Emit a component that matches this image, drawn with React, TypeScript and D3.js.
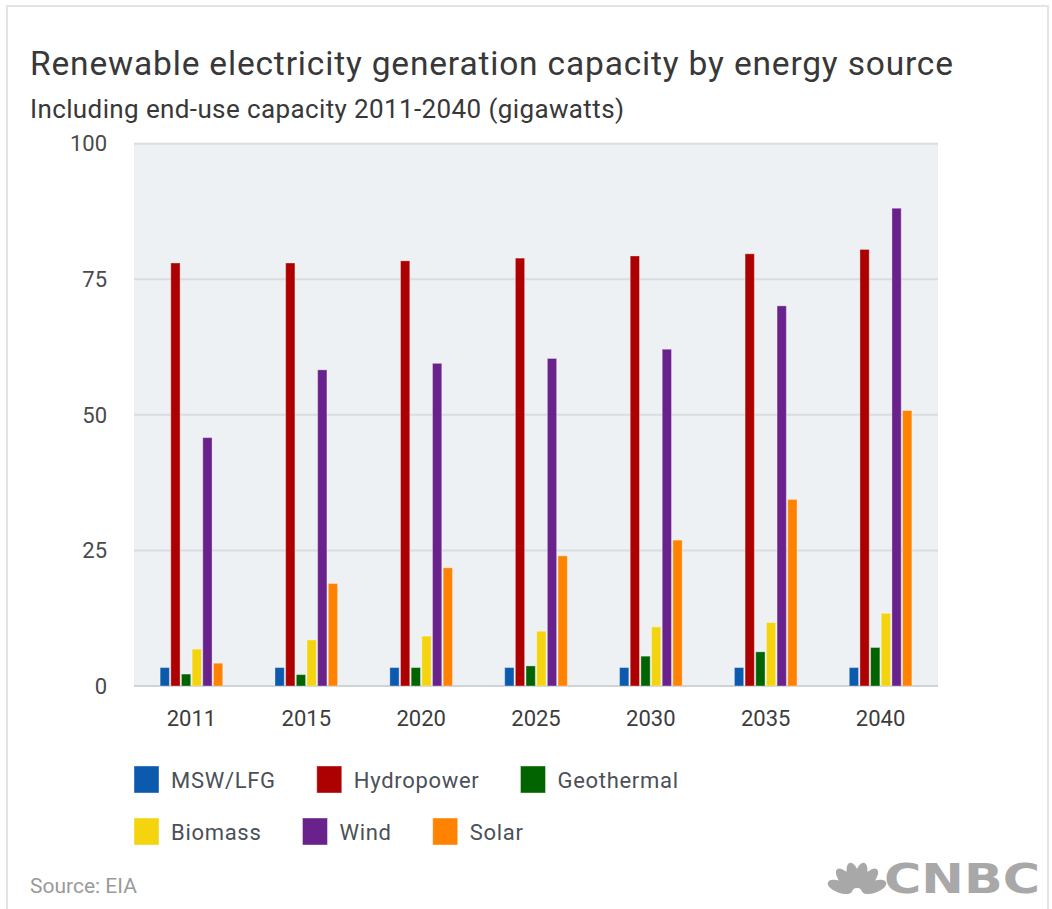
import React, { useEffect, useRef } from "react";
import * as d3 from "d3";

const years = ["2011", "2015", "2020", "2025", "2030", "2035", "2040"];
const sources = ["MSW/LFG", "Hydropower", "Geothermal", "Biomass", "Wind", "Solar"];
const sourceColors = ["#0b5aad", "#ad0000", "#016401", "#f3d40f", "#69218b", "#ff8200"];

const mswLfg = [3.4, 3.4, 3.4, 3.4, 3.4, 3.4, 3.4];
const hydropower = [78.0, 78.0, 78.4, 78.9, 79.3, 79.7, 80.5];
const geothermal = [2.2, 2.1, 3.4, 3.7, 5.5, 6.3, 7.1];
const biomass = [6.8, 8.5, 9.2, 10.1, 10.9, 11.7, 13.4];
const wind = [45.8, 58.3, 59.5, 60.4, 62.1, 70.1, 88.1];
const solar = [4.2, 18.9, 21.8, 24.0, 26.9, 34.4, 50.8];

const seriesValues = [mswLfg, hydropower, geothermal, biomass, wind, solar];
const yTicks = [0, 25, 50, 75, 100];
const legendRows = [
  [0, 1, 2],
  [3, 4, 5],
];

const W = 1052;
const H = 909;
const FONT = "Roboto, 'Open Sans', sans-serif";

export default function App() {
  const ref = useRef<SVGSVGElement | null>(null);

  useEffect(() => {
    const svg = d3.select(ref.current);
    svg.selectAll("*").remove();

    // outer frame
    svg
      .append("rect")
      .attr("x", 7)
      .attr("y", 6)
      .attr("width", 1041)
      .attr("height", 940)
      .attr("fill", "#fff")
      .attr("stroke", "#e4e4e4")
      .attr("stroke-width", 2);

    // headings
    svg
      .append("text")
      .attr("x", 30)
      .attr("y", 75)
      .attr("font-family", FONT)
      .attr("font-size", 33.5)
      .attr("fill", "#383838")
      .attr("textLength", 923)
      .attr("lengthAdjust", "spacing")
      .text("Renewable electricity generation capacity by energy source");
    svg
      .append("text")
      .attr("x", 30)
      .attr("y", 118)
      .attr("font-family", FONT)
      .attr("font-size", 26)
      .attr("fill", "#383838")
      .attr("textLength", 594)
      .attr("lengthAdjust", "spacing")
      .text("Including end-use capacity 2011-2040 (gigawatts)");

    const left = 134;
    const right = 938;
    const y = d3.scaleLinear().domain([0, 100]).range([686, 143.7]);
    const x0 = d3.scaleBand<string>().domain(years).range([left, right]).padding(0);
    const groupW = 62.6;
    const x1 = d3
      .scaleBand<number>()
      .domain(d3.range(sources.length))
      .range([0, groupW])
      .paddingInner(0.13);

    // plot background
    svg
      .append("rect")
      .attr("x", left)
      .attr("y", y(100))
      .attr("width", right - left)
      .attr("height", y(0) - y(100))
      .attr("fill", "#eef1f3");

    // gridlines
    svg
      .append("g")
      .selectAll("line")
      .data(yTicks)
      .join("line")
      .attr("x1", left)
      .attr("x2", right)
      .attr("y1", (d) => y(d))
      .attr("y2", (d) => y(d))
      .attr("stroke", (d) => (d === 0 ? "#cfd3d7" : "#d9dce0"))
      .attr("stroke-width", 2);

    // y tick labels
    svg
      .append("g")
      .selectAll("text")
      .data(yTicks)
      .join("text")
      .attr("x", 107)
      .attr("y", (d) => y(d))
      .attr("dy", "0.35em")
      .attr("text-anchor", "end")
      .attr("font-family", FONT)
      .attr("font-size", 22)
      .attr("fill", "#4a4a4a")
      .text((d) => String(d));

    // x labels
    svg
      .append("g")
      .selectAll("text")
      .data(years)
      .join("text")
      .attr("x", (d) => (x0(d) as number) + x0.bandwidth() / 2)
      .attr("y", 726)
      .attr("text-anchor", "middle")
      .attr("font-family", FONT)
      .attr("font-size", 22)
      .attr("fill", "#3c3c3c")
      .text((d) => d);

    // bars
    const groups = svg
      .append("g")
      .selectAll("g")
      .data(years)
      .join("g")
      .attr(
        "transform",
        (d) => `translate(${(x0(d) as number) + (x0.bandwidth() - groupW) / 2},0)`
      );
    groups
      .selectAll("rect")
      .data((_, yi) => sources.map((_, si) => ({ si, v: seriesValues[si][yi] })))
      .join("rect")
      .attr("x", (d) => x1(d.si) as number)
      .attr("width", x1.bandwidth())
      .attr("y", (d) => y(d.v))
      .attr("height", (d) => y(0) - y(d.v))
      .attr("fill", (d) => sourceColors[d.si])
      .attr("stroke", "#ffffff")
      .attr("stroke-opacity", 0.35)
      .attr("stroke-width", 1);

    // legend
    const legend = svg.append("g");
    const rowBaselines = [788, 840];
    legendRows.forEach((row, ri) => {
      let cx = 134;
      row.forEach((si) => {
        const base = rowBaselines[ri];
        legend
          .append("rect")
          .attr("x", cx)
          .attr("y", base - 22)
          .attr("width", 25)
          .attr("height", 27)
          .attr("fill", sourceColors[si])
          .attr("stroke", "#ffffff")
          .attr("stroke-opacity", 0.4)
          .attr("stroke-width", 1);
        const t = legend
          .append("text")
          .attr("x", cx + 37)
          .attr("y", base)
          .attr("font-family", FONT)
          .attr("font-size", 22)
          .attr("letter-spacing", 0.7)
          .attr("fill", "#4b5058")
          .text(sources[si]);
        const tw = (t.node() as SVGTextElement).getComputedTextLength();
        cx = cx + 37 + tw + 41;
      });
    });

    // source note
    svg
      .append("text")
      .attr("x", 30)
      .attr("y", 893)
      .attr("font-family", FONT)
      .attr("font-size", 21)
      .attr("fill", "#9a9a9a")
      .text("Source: EIA");

    // CNBC mark: peacock feathers and wordmark
    const logo = svg.append("g").attr("fill", "#a8a8a8");
    const px = 857;
    const py = 893;
    const feathers = [-70, -40, -13, 13, 40, 70];
    feathers.forEach((a) => {
      logo
        .append("ellipse")
        .attr("cx", 0)
        .attr("cy", -18)
        .attr("rx", 6)
        .attr("ry", 13)
        .attr("transform", `translate(${px},${py}) rotate(${a})`);
    });
    logo
      .append("text")
      .attr("x", 884)
      .attr("y", 893)
      .attr("font-family", "'DejaVu Sans', sans-serif")
      .attr("font-weight", "bold")
      .attr("font-size", 40)
      .attr("textLength", 156)
      .attr("lengthAdjust", "spacingAndGlyphs")
      .text("CNBC");
  }, []);

  return (
    <svg
      ref={ref}
      width={W}
      height={H}
      style={{ position: "absolute", left: 0, top: 0, background: "#fff" }}
    />
  );
}
